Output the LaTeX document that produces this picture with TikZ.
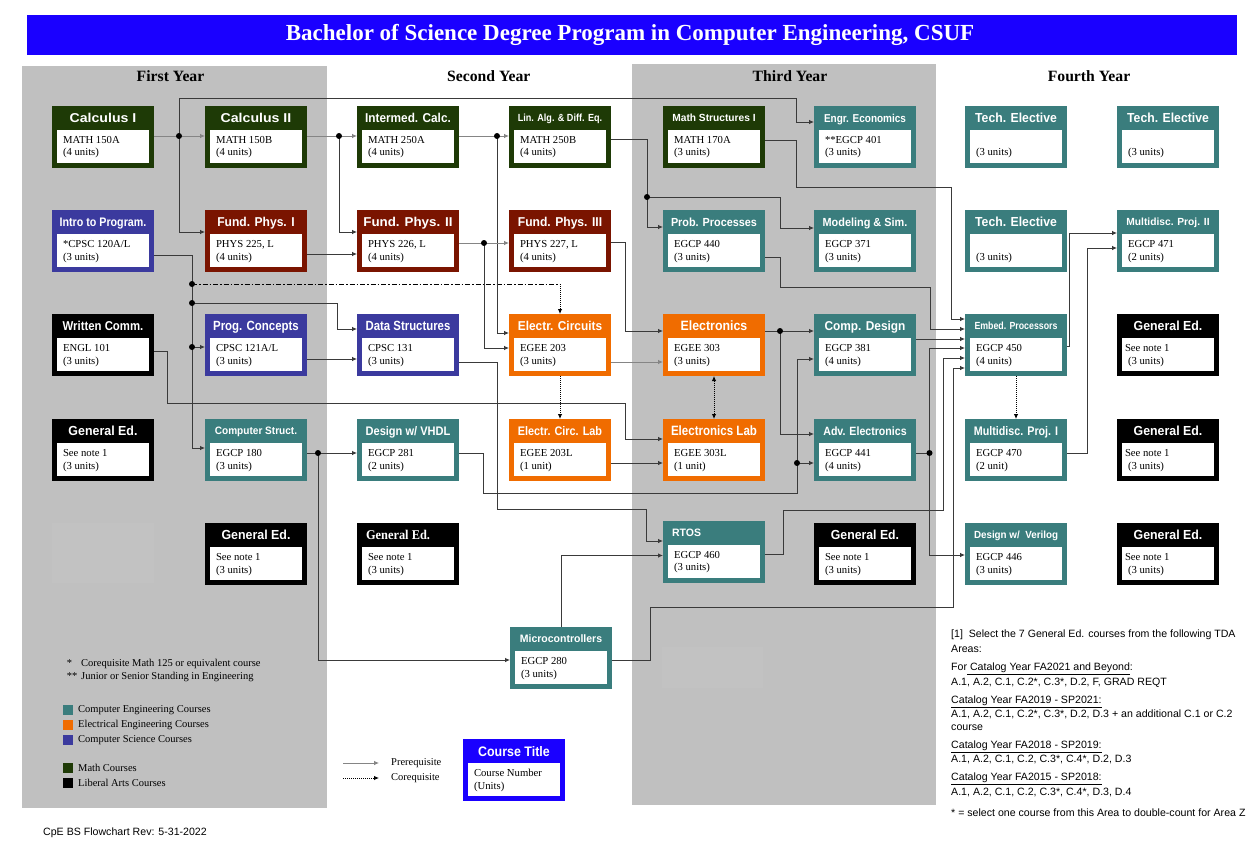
\documentclass[tikz,border=0pt]{standalone}
\usepackage{fontspec}
\setmainfont{Liberation Serif}
\setsansfont{Liberation Sans}
\usepackage{graphicx}
\usetikzlibrary{arrows.meta,calc}
\definecolor{mathc}{HTML}{1E3A06}
\definecolor{physc}{HTML}{7A1400}
\definecolor{csc}{HTML}{3B3A9E}
\definecolor{cec}{HTML}{3A7D7D}
\definecolor{eec}{HTML}{F06C00}
\definecolor{titlec}{HTML}{1A00FF}
\definecolor{panel}{HTML}{C0C0C0}
\definecolor{faint}{HTML}{C2C2C2}
\definecolor{linec}{HTML}{3A3A3A}
\definecolor{lightc}{HTML}{858585}
\newcommand{\hdr}[3]{\resizebox{#1pt}{#2pt}{\raisebox{0pt}[\height][0pt]{#3}}}
\newcommand{\crs}[7]{%
  \node[cbox,fill=#4] (#1) at (#2,#3) {};
  \node[cin] (#1i) at ([xshift=5pt,yshift=-24pt]#1.north west) {};
  \node[chd] (#1h) at ([yshift=-12pt]#1.north) {#5};
  \node[ctx] (#1a) at ([xshift=11pt,yshift=-37.5pt]#1.north west) {#6};
  \node[ctx] (#1b) at ([xshift=11pt,yshift=-50pt]#1.north west) {#7};
}
\begin{document}
\begin{tikzpicture}[x=1pt,y=-1pt,
  cbox/.style={rectangle,anchor=north west,minimum width=102pt,minimum height=62pt,inner sep=0pt,outer sep=0pt},
  cin/.style={rectangle,fill=white,anchor=north west,minimum width=92pt,minimum height=33pt,inner sep=0pt,outer sep=0pt},
  chd/.style={text=white,inner sep=0pt,outer sep=0pt,font=\sffamily\bfseries\fontsize{13}{15}\selectfont},
  ctx/.style={anchor=base west,inner sep=0pt,outer sep=0pt,font=\fontsize{10.7}{12}\selectfont},
  conn/.style={draw=linec,line width=0.8pt},
  arr/.style={-{Latex[length=5pt,width=4.5pt]}},
  darr/.style={{Latex[length=5pt,width=4.5pt]}-{Latex[length=5pt,width=4.5pt]}},
  coreq/.style={draw=black,line width=0.9pt,dash pattern=on 1pt off 1pt},
  dashdot/.style={draw=black,line width=0.8pt,dash pattern=on 5pt off 2pt on 1.5pt off 2pt},
  yearh/.style={anchor=base,inner sep=0pt,font=\bfseries\fontsize{15.7}{18}\selectfont},
  sq/.style={rectangle,minimum size=10pt,inner sep=0pt},
  legt/.style={anchor=west,inner sep=0pt,font=\fontsize{10.5}{12}\selectfont},
  notet/.style={anchor=west,inner sep=0pt,font=\sffamily\fontsize{10.6}{12}\selectfont},
  jd/.style={fill=black}]
% background and bounding box
\fill[white] (0,0) rectangle (1255,848);
\path[use as bounding box] (0,0) rectangle (1255,848);
% panels
\fill[panel] (22,66) rectangle (327,808);
\fill[panel] (632,64) rectangle (936,805);
% title
\fill[titlec] (27,15) rectangle (1237,55);
\node[text=white,font=\bfseries\fontsize{23}{26}\selectfont,inner sep=0pt] (title) at (630,35) {Bachelor of Science Degree Program in Computer Engineering, CSUF};
% year headings
\node[yearh] (y1) at (170.5,81.7) {First Year};
\node[yearh] (y2) at (488.8,81.7) {Second Year};
\node[yearh] (y3) at (790,81.7) {Third Year};
\node[yearh] (y4) at (1089,81.7) {Fourth Year};
% faint boxes
\node[cbox,fill=faint,minimum height=60pt] (fa1) at (52,523) {};
\node[cbox,fill=faint,minimum width=101pt,minimum height=41pt] (fa2) at (662,647) {};
% Row 1
\crs{calcI}{52}{106}{mathc}{\hdr{66.7}{9.3}{Calculus I}}{MATH 150A}{(4 units)}
\crs{calcII}{205}{106}{mathc}{\hdr{70.7}{9.3}{Calculus II}}{MATH 150B}{(4 units)}
\crs{icalc}{357}{106}{mathc}{\hdr{85.7}{9.3}{Intermed. Calc.}}{MATH 250A}{(4 units)}
\crs{linalg}{509}{106}{mathc}{\hdr{84.3}{7.5}{Lin. Alg. \& Diff. Eq.}}{MATH 250B}{(4 units)}
\crs{mstruct}{663}{106}{mathc}{\hdr{83.3}{7.5}{Math Structures I}}{MATH 170A}{(3 units)}
\crs{econ}{814}{106}{cec}{\hdr{82}{8.3}{Engr. Economics}}{**EGCP 401}{(3 units)}
\crs{techA}{965}{106}{cec}{\hdr{81.7}{9.5}{Tech. Elective}}{}{(3 units)}
\crs{techB}{1117}{106}{cec}{\hdr{81.7}{9.5}{Tech. Elective}}{}{(3 units)}
% Row 2
\crs{intro}{52}{210}{csc}{\hdr{86.7}{8.5}{Intro to Program.}}{*CPSC 120A/L}{(3 units)}
\crs{physI}{205}{210}{physc}{\hdr{77.3}{9.3}{Fund. Phys. I}}{PHYS 225, L}{(4 units)}
\crs{physII}{357}{210}{physc}{\hdr{89.3}{9.3}{Fund. Phys. II}}{PHYS 226, L}{(4 units)}
\crs{physIII}{509}{210}{physc}{\hdr{84.3}{9.3}{Fund. Phys. III}}{PHYS 227, L}{(4 units)}
\crs{prob}{663}{210}{cec}{\hdr{86}{8.5}{Prob. Processes}}{EGCP 440}{(3 units)}
\crs{model}{814}{210}{cec}{\hdr{84.7}{8.5}{Modeling \& Sim.}}{EGCP 371}{(3 units)}
\crs{techC}{965}{210}{cec}{\hdr{81.7}{9.5}{Tech. Elective}}{}{(3 units)}
\crs{mdII}{1117}{210}{cec}{\hdr{83.3}{7.5}{Multidisc. Proj. II}}{EGCP 471}{(2 units)}
% Row 3
\crs{engl}{52}{314}{black}{\hdr{80.7}{9.3}{Written Comm.}}{ENGL 101}{(3 units)}
\crs{progc}{205}{314}{csc}{\hdr{85.7}{9.3}{Prog. Concepts}}{CPSC 121A/L}{(3 units)}
\crs{datas}{357}{314}{csc}{\hdr{84.7}{9.3}{Data Structures}}{CPSC 131}{(3 units)}
\crs{ecirc}{509}{314}{eec}{\hdr{84.3}{9.3}{Electr. Circuits}}{EGEE 203}{(3 units)}
\crs{elec}{663}{314}{eec}{\hdr{66.7}{9.8}{Electronics}}{EGEE 303}{(3 units)}
\crs{cdes}{814}{314}{cec}{\hdr{81}{9.3}{Comp. Design}}{EGCP 381}{(4 units)}
\crs{embed}{965}{314}{cec}{\hdr{83}{7.5}{Embed. Processors}}{EGCP 450}{(4 units)}
\crs{geA}{1117}{314}{black}{\hdr{68.7}{9.5}{General Ed.}}{\hspace*{-3pt}See note 1}{(3 units)}
% Row 4
\crs{geB}{52}{419}{black}{\hdr{69}{9.5}{General Ed.}}{See note 1}{(3 units)}
\crs{cstruct}{205}{419}{cec}{\hdr{82.3}{7.5}{Computer Struct.}}{EGCP 180}{(3 units)}
\crs{vhdl}{357}{419}{cec}{\hdr{84.7}{9}{Design w/ VHDL}}{EGCP 281}{(2 units)}
\crs{eclab}{509}{419}{eec}{\hdr{84.3}{9}{Electr. Circ. Lab}}{EGEE 203L}{(1 unit)}
\crs{elab}{663}{419}{eec}{\hdr{86}{9.8}{Electronics Lab}}{EGEE 303L}{(1 unit)}
\crs{adve}{814}{419}{cec}{\hdr{83.3}{8.7}{Adv. Electronics}}{EGCP 441}{(4 units)}
\crs{mdI}{965}{419}{cec}{\hdr{84.3}{9}{Multidisc. Proj. I}}{EGCP 470}{(2 unit)}
\crs{geC}{1117}{419}{black}{\hdr{68.7}{9.5}{General Ed.}}{\hspace*{-3pt}See note 1}{(3 units)}
% Row 5
\crs{geD}{205}{523}{black}{\hdr{69}{9.5}{General Ed.}}{See note 1}{(3 units)}
\crs{geE}{357}{523}{black}{\makebox[84pt][l]{\hdr{64}{9.3}{\rmfamily\bfseries General Ed.}}}{See note 1}{(3 units)}
\crs{rtos}{663}{520.5}{cec}{\makebox[84pt][l]{\hdr{29}{7.5}{RTOS}}}{EGCP 460}{(3 units)}
\crs{geF}{814}{523}{black}{\hdr{68.3}{9.5}{General Ed.}}{See note 1}{(3 units)}
\crs{verilog}{965}{523}{cec}{\hdr{84}{7.5}{Design w/\ \ Verilog}}{EGCP 446}{(3 units)}
\crs{geG}{1117}{523}{black}{\hdr{68.7}{9.5}{General Ed.}}{\hspace*{-3pt}See note 1}{(3 units)}
% Row 6
\crs{micro}{510}{627}{cec}{\hdr{82.3}{7.8}{Microcontrollers}}{EGCP 280}{(3 units)}
% legend course box
\crs{legbox}{463}{739}{titlec}{\hdr{71.7}{10}{Course Title}}{Course Number}{(Units)}
% junction coordinates
\coordinate (j1) at (179,136);
\coordinate (j2) at (339,136);
\coordinate (j4) at (497,136);
\coordinate (j5) at (484,243);
\coordinate (j6) at (647,197);
\coordinate (j7) at (318,453);
\coordinate (j8) at (797,463);
\coordinate (j9) at (780,331);
\coordinate (j10) at (929.5,453);
\coordinate (jA) at (192,284);
\coordinate (jB) at (192,303);
\coordinate (jC) at (192,347);
% connectors
\draw[conn,draw=lightc,arr] ([yshift=-30pt]calcI.north east) -- ([yshift=-30pt]calcII.north west);
\draw[conn,arr] (j1) |- (796,98) |- ([yshift=-16pt]econ.north west);
\draw[conn,arr] (j1) |- ([yshift=-22pt]physI.north west);
\draw[conn,draw=lightc,arr] ([yshift=-30pt]calcII.north east) -- ([yshift=-30pt]icalc.north west);
\draw[conn,arr] (j2) |- ([yshift=-22pt]physII.north west);
\draw[conn,arr] ([yshift=-44pt]physI.north east) -- ([yshift=-44pt]physII.north west);
\draw[conn,arr] ([yshift=-45pt]intro.north east) -| (192,448) -- ([yshift=-29pt]cstruct.north west);
\draw[conn,arr] (jC) -- ([yshift=-33pt]progc.north west);
\draw[conn,arr] (jB) -| (337,329) -- ([yshift=-15pt]datas.north west);
\draw[dashdot] (jA) -- (560,284);
\draw[coreq,arr] (560,284) -- (ecirc.north);
\draw[conn,arr] ([yshift=-45pt]progc.north east) -- ([yshift=-45pt]datas.north west);
\draw[conn,draw=lightc,arr] ([yshift=-30pt]icalc.north east) -- ([yshift=-30pt]linalg.north west);
\draw[conn,arr] (j4) |- ([yshift=-19pt]ecirc.north west);
\draw[conn,draw=lightc,arr] ([yshift=-33pt]physII.north east) -- ([yshift=-33pt]physIII.north west);
\draw[conn,arr] (j5) |- ([yshift=-34pt]ecirc.north west);
\draw[conn,arr] ([yshift=-33pt]linalg.north east) -| (647,227) -- ([yshift=-17pt]prob.north west);
\draw[conn,arr] (j6) -| (780,228) -- ([yshift=-18pt]model.north west);
\draw[conn,arr] ([yshift=-34pt]mstruct.north east) -| (796,187) -| (951,319) -- ([yshift=-5pt]embed.north west);
\draw[conn,arr] ([yshift=-47pt]prob.north east) -| (780,287) -| (930,329) -- ([yshift=-15pt]embed.north west);
\draw[conn,arr] ([yshift=-32pt]physIII.north east) -| (625,331) -- ([yshift=-17pt]elec.north west);
\draw[conn,draw=lightc,arr] ([yshift=-48pt]ecirc.north east) -- ([yshift=-48pt]elec.north west);
\draw[conn,arr] ([yshift=-37pt]engl.north east) -| (167,403) -| (625,439) -- ([yshift=-20pt]elab.north west);
\draw[conn,arr] ([yshift=-48pt]datas.north east) -| (497.5,509) -| (646,541) -- ([yshift=-20.5pt]rtos.north west);
\draw[coreq,arr] (ecirc.south) -- (eclab.north);
\draw[coreq,darr] (elec.south) -- (elab.north);
\draw[conn,arr] ([yshift=-44pt]eclab.north east) -- ([yshift=-44pt]elab.north west);
\draw[conn,arr] ([yshift=-34pt]cstruct.north east) -- ([yshift=-34pt]vhdl.north west);
\draw[conn,arr] (j7) |- ([yshift=-33pt]micro.north west);
\draw[conn,arr] ([yshift=-34pt]vhdl.north east) -| (483,493) -| (797,359) -- ([yshift=-45pt]cdes.north west);
\draw[conn,arr] (j8) -- ([yshift=-44pt]adve.north west);
\draw[conn,arr] ([yshift=-17pt]elec.north east) -- ([yshift=-17pt]cdes.north west);
\draw[conn,arr] (j9) |- ([yshift=-15pt]adve.north west);
\draw[conn,arr] ([yshift=-25pt]cdes.north east) -- ([yshift=-25pt]embed.north west);
\draw[conn] ([yshift=-34pt]adve.north east) -- (j10);
\draw[conn,arr] (j10) |- ([yshift=-34pt]embed.north west);
\draw[conn,arr] (j10) |- ([yshift=-32pt]verilog.north west);
\draw[conn,arr] ([yshift=-34pt]rtos.north east) -| (783,510) -| (943.5,358) -- ([yshift=-44pt]embed.north west);
\draw[conn,arr] ([yshift=-33pt]micro.north east) -| (650,607) -| (953,368) -- ([yshift=-54pt]embed.north west);
\draw[conn,arr] (micro.north) |- ([yshift=-35pt]rtos.north west);
\draw[coreq,arr] (embed.south) -- (mdI.north);
\draw[conn,arr] ([yshift=-32pt]embed.north east) -| (1069.5,233) -- ([yshift=-23pt]mdII.north west);
\draw[conn,arr] ([yshift=-34pt]mdI.north east) -| (1087.5,248) -- ([yshift=-38pt]mdII.north west);
% junction dots
\foreach \j in {j1,j2,j4,j5,j6,j7,j8,j9,j10,jA,jB,jC} \fill[jd] (\j) circle (3pt);
% legend arrows
\coordinate (la1) at (343,763); \coordinate (lb1) at (379,763);
\coordinate (la2) at (343,778); \coordinate (lb2) at (379,778);
\draw[conn,draw=lightc,arr] (la1) -- (lb1);
\draw[coreq,arr] (la2) -- (lb2);
\node[legt] (lprq) at (391,763) {Prerequisite};
\node[legt] (lcrq) at (391,778) {Corequisite};
% footnotes
\node[legt] (fn1) at (66.7,664) {\makebox[14.3pt][l]{*}Corequisite Math 125 or equivalent course};
\node[legt] (fn2) at (66.7,677) {\makebox[14.3pt][l]{**}Junior or Senior Standing in Engineering};
% colour legend
\node[sq,fill=cec] (sq1) at (67.7,710) {};
\node[sq,fill=eec] (sq2) at (67.7,725) {};
\node[sq,fill=csc] (sq3) at (67.7,740) {};
\node[sq,fill=mathc] (sq4) at (67.7,768) {};
\node[sq,fill=black] (sq5) at (67.7,783) {};
\node[legt] (lt1) at (78,710) {Computer Engineering Courses};
\node[legt] (lt2) at (78,725) {Electrical Engineering Courses};
\node[legt] (lt3) at (78,740) {Computer Science Courses};
\node[legt] (lt4) at (78,768) {Math Courses};
\node[legt] (lt5) at (78,783) {Liberal Arts Courses};
% footer
\node[anchor=west,inner sep=0pt,font=\sffamily\fontsize{10.6}{12}\selectfont] (footer) at (43,833) {CpE BS Flowchart Rev: 5-31-2022};
% note
\node[notet] (n1) at (951,635) {[1]\ \ Select the 7 General Ed. courses from the following TDA};
\node[notet] (n2) at (951,649) {Areas:};
\node[notet] (n3) at (951,669) {For\underline{ Catalog Year FA2021 and Beyond}:};
\node[notet] (n4) at (951,682.7) {A.1, A.2, C.1, C.2*, C.3*, D.2, F, GRAD REQT};
\node[notet] (n5) at (951,701.7) {\underline{Catalog Year FA2019 - SP2021:}};
\node[notet] (n6) at (951,714) {A.1, A.2, C.1, C.2*, C.3*, D.2, D.3 + an additional C.1 or C.2};
\node[notet] (n7) at (951,727.7) {course};
\node[notet] (n8) at (951,746.7) {\underline{Catalog Year FA2018 - SP2019:}};
\node[notet] (n9) at (951,759) {A.1, A.2, C.1, C.2, C.3*, C.4*, D.2, D.3};
\node[notet] (n10) at (951,779) {\underline{Catalog Year FA2015 - SP2018:}};
\node[notet] (n11) at (951,792.7) {A.1, A.2, C.1, C.2, C.3*, C.4*, D.3, D.4};
\node[notet] (n12) at (951,813) {* = select one course from this Area to double-count for Area Z};
\end{tikzpicture}
\end{document}
